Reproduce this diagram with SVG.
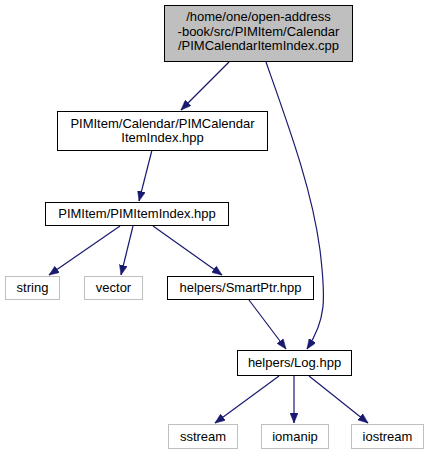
<svg xmlns="http://www.w3.org/2000/svg" width="429" height="456" viewBox="0 0 429 456">
<style>
text{font-family:"Liberation Sans",Arial,sans-serif;font-size:13px;fill:#000;text-anchor:middle}
.n{fill:#fff;stroke:#000;stroke-width:1}
.g{fill:#fff;stroke:#bfbfbf;stroke-width:1}
.top{fill:#bfbfbf;stroke:#000;stroke-width:1}
.e{fill:none;stroke:#191970;stroke-width:1.2;marker-end:url(#a)}
</style>
<defs>
<marker id="a" markerUnits="userSpaceOnUse" markerWidth="11" markerHeight="8" refX="10" refY="4" orient="auto">
<path d="M0,0 L10,4 L0,8 z" fill="#191970" stroke="#191970" stroke-width="0.5"/>
</marker>
</defs>
<rect width="429" height="456" fill="#fff"/>
<g id="edges">
<path class="e" d="M229,62 L181,110"/>
<path class="e" d="M266,62 C290,130 312,190 320,250 C326,300 326,320 307,349"/>
<path class="e" d="M152,150 L139,201"/>
<path class="e" d="M120,226 L49,275"/>
<path class="e" d="M133,226 L121,275"/>
<path class="e" d="M153,226 L222,275"/>
<path class="e" d="M249,300 L286,349"/>
<path class="e" d="M279,376 L215,423"/>
<path class="e" d="M294,376 L294,423"/>
<path class="e" d="M309,376 L368,423"/>
</g>
<g id="node1"><rect class="top" x="164.5" y="5.5" width="188" height="56"/>
<text x="258.5" y="21">/home/one/open-address</text>
<text x="258.5" y="35.5">-book/src/PIMItem/Calendar</text>
<text x="258.5" y="50">/PIMCalendarItemIndex.cpp</text></g>
<g id="node2"><rect class="n" x="57.5" y="111.5" width="210" height="39"/>
<text x="162.5" y="127.5">PIMItem/Calendar/PIMCalendar</text>
<text x="162.5" y="142">ItemIndex.hpp</text></g>
<g id="node3"><rect class="n" x="45.5" y="202.5" width="183" height="23"/>
<text x="137" y="218">PIMItem/PIMItemIndex.hpp</text></g>
<g id="node4"><rect class="g" x="5.5" y="276.5" width="54" height="23"/>
<text x="32.5" y="292">string</text></g>
<g id="node5"><rect class="g" x="84.5" y="276.5" width="58" height="23"/>
<text x="113.5" y="292">vector</text></g>
<g id="node6"><rect class="n" x="167.5" y="276.5" width="146" height="23"/>
<text x="240.5" y="292">helpers/SmartPtr.hpp</text></g>
<g id="node7"><rect class="n" x="237.5" y="350.5" width="114" height="25"/>
<text x="294.5" y="366.5">helpers/Log.hpp</text></g>
<g id="node8"><rect class="g" x="168.5" y="424.5" width="69" height="24"/>
<text x="203" y="440.5">sstream</text></g>
<g id="node9"><rect class="g" x="261.5" y="424.5" width="67" height="24"/>
<text x="295" y="440.5">iomanip</text></g>
<g id="node10"><rect class="g" x="351.5" y="424.5" width="72" height="24"/>
<text x="387.5" y="440.5">iostream</text></g>
</svg>
